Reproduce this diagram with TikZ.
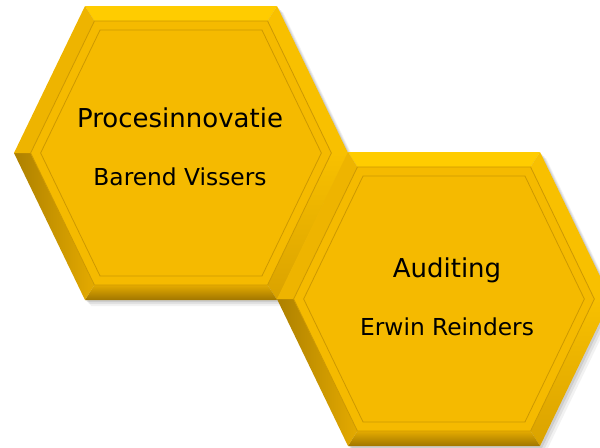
\documentclass[tikz,border=0pt]{standalone}
\usepackage{fontspec}
\setsansfont{DejaVu Sans}
\usepackage{xcolor}
\usepackage{tikz}

\definecolor{cellfill}{RGB}{245,186,0}
\definecolor{celltop}{RGB}{255,204,0}
\definecolor{cellupleft}{RGB}{238,180,0}
\definecolor{cellupright}{RGB}{248,192,0}
\definecolor{celldark}{RGB}{160,118,0}
\definecolor{cellmid}{RGB}{228,170,0}
\definecolor{cellline}{RGB}{205,152,0}

% one honeycomb cell: centre x, centre y, half width, half top edge, half height
\newcommand{\honeycell}[5]{%
    \foreach \d/\p in {0/o,15/b,24/c}{
        \pgfmathsetmacro{\cellw}{#3-\d*sqrt(((#3-#4)/100)^2+(#5/100)^2)*100/#5}
        \pgfmathsetmacro{\cellh}{#5-\d}
        \pgfmathsetmacro{\cellt}{\cellw-\cellh*(#3-#4)/#5}
        \coordinate (\p1) at (#1-\cellw,#2);
        \coordinate (\p2) at (#1-\cellt,#2-\cellh);
        \coordinate (\p3) at (#1+\cellt,#2-\cellh);
        \coordinate (\p4) at (#1+\cellw,#2);
        \coordinate (\p5) at (#1+\cellt,#2+\cellh);
        \coordinate (\p6) at (#1-\cellt,#2+\cellh);
    }
    % soft shadow
    \foreach \s/\a in {6/.05,4/.07,2/.09}{
        \fill[black, opacity=\a] ([shift={(\s,\s)}]o1) -- ([shift={(\s,\s)}]o2) -- ([shift={(\s,\s)}]o3)
            -- ([shift={(\s,\s)}]o4) -- ([shift={(\s,\s)}]o5) -- ([shift={(\s,\s)}]o6) -- cycle;
    }
    % bevel facets
    \fill[celltop] (o2) -- (o3) -- (b3) -- (b2) -- cycle;
    \fill[cellupright] (o3) -- (o4) -- (b4) -- (b3) -- cycle;
    \shade[top color=cellupright, bottom color=cellmid!85!celldark] (o4) -- (o5) -- (b5) -- (b4) -- cycle;
    \shade[top color=cellmid, bottom color=celldark] (b6) -- (b5) -- (o5) -- (o6) -- cycle;
    \shade[left color=celldark!80!cellmid, right color=cellmid] (o6) -- (o1) -- (b1) -- (b6) -- cycle;
    \fill[cellupleft] (o1) -- (o2) -- (b2) -- (b1) -- cycle;
    % face with its frame
    \fill[cellfill] (b1) -- (b2) -- (b3) -- (b4) -- (b5) -- (b6) -- cycle;
    \draw[cellline, line width=0.6pt] (b1) -- (b2) -- (b3) -- (b4) -- (b5) -- (b6) -- cycle;
    \draw[cellline, line width=0.6pt] (c1) -- (c2) -- (c3) -- (c4) -- (c5) -- (c6) -- cycle;
}

\begin{document}
\begin{tikzpicture}[x=0.75pt, y=-0.75pt,
    title/.style={font=\sffamily\fontsize{19.5}{22}\selectfont, anchor=base, inner sep=0pt},
    person/.style={font=\sffamily\fontsize{17.5}{20}\selectfont, anchor=base, inner sep=0pt}]
    \useasboundingbox (0,0) rectangle (600,447);
    \clip (0,0) rectangle (600,447);

    \honeycell{181}{153}{167}{96}{147}
    \honeycell{444}{299}{167}{96}{147}

    \node[title]  (proces)  at (180,127) {Procesinnovatie};
    \node[person] (barend)  at (180,185) {Barend Vissers};
    \node[title]  (audit)   at (447,277) {Auditing};
    \node[person] (erwin)   at (447,335) {Erwin Reinders};
\end{tikzpicture}
\end{document}
